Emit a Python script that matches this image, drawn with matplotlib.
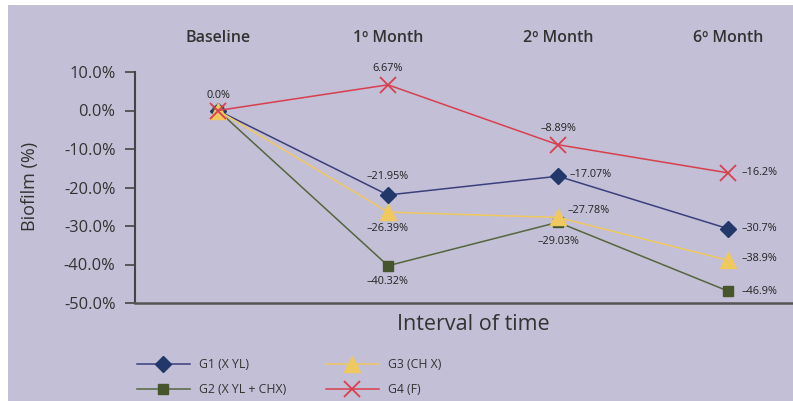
import matplotlib
matplotlib.use("Agg")
import matplotlib.pyplot as plt
from matplotlib.patches import Rectangle

plt.rcParams['font.family'] = ['Open Sans', 'DejaVu Sans']

categories = ["Baseline", "1º Month", "2º Month", "6º Month"]
g1 = [0.0, -21.95, -17.07, -30.7]
g2 = [0.0, -40.32, -29.03, -46.9]
g3 = [0.0, -26.39, -27.78, -38.9]
g4 = [0.0, 6.67, -8.89, -16.2]
series_names = ["G1 (X YL)", "G2 (X YL + CHX)", "G3 (CH X)", "G4 (F)"]
yticks = [10, 0, -10, -20, -30, -40, -50]

bg = "#c3bfd6"
fig = plt.figure(figsize=(7.93, 4.01), dpi=100, facecolor="white")
fig.patches.append(Rectangle((8 / 793, 0), 1, 1 - 5 / 401, transform=fig.transFigure,
                             facecolor=bg, edgecolor="none", zorder=-10))

ax = fig.add_axes([135 / 793, 1 - 303 / 401, 1 - 135 / 793, (303 - 72) / 401])
ax.set_facecolor("none")
x = list(range(len(categories)))

styles = [
    (g1, dict(color="#3b3f7c", marker="D", markersize=8, markerfacecolor="#22386a",
              markeredgecolor="#22386a")),
    (g2, dict(color="#55653f", marker="s", markersize=6.5, markerfacecolor="#46552b",
              markeredgecolor="#46552b")),
    (g3, dict(color="#f0c860", marker="^", markersize=11, markerfacecolor="#f0c860",
              markeredgecolor="#f0c860")),
    (g4, dict(color="#d8404f", marker="x", markersize=12, markeredgewidth=1.3)),
]
lines = []
for (vals, st), name in zip(styles, series_names):
    ln, = ax.plot(x, vals, linewidth=1.1, label=name, **st)
    lines.append(ln)

ax.set_xlim(-0.488, 3.382)
ax.set_ylim(-50, 10)
ax.set_yticks(yticks)
ax.set_yticklabels([f"{v:.1f}%" for v in yticks], fontsize=11.8, color="#333333")
ax.set_xticks(x)
ax.set_xticklabels(categories, fontsize=11.5, color="#333333", fontweight="semibold")
ax.xaxis.tick_top()
ax.tick_params(axis="x", length=0, pad=19)
ax.tick_params(axis="y", length=7, width=1.2, color="#444444", pad=7, direction="out")
for s in ["top", "right"]:
    ax.spines[s].set_visible(False)
ax.spines["left"].set_color("#444444")
ax.spines["left"].set_linewidth(1.5)
ax.spines["bottom"].set_color("#555555")
ax.spines["bottom"].set_linewidth(1.8)
fig.text(30 / 793, 1 - 186 / 401, "Biofilm (%)", fontsize=13, color="#333333",
         rotation=90, ha="center", va="center")
fig.text(473 / 793, 1 - 325 / 401, "Interval of time", fontsize=15.5, color="#333333",
         ha="center", va="center")

def fmt(v):
    s = f"{v:g}%" if v != 0 else "0.0%"
    return s.replace("-", "\u2013")

lab = dict(fontsize=7.8, color="#222222")
# value labels: (x index, value, offset in points, ha)
notes = [
    (0, g4[0], (0, 11), "center"),
    (1, g4[1], (0, 12), "center"),
    (1, g1[1], (0, 13), "center"),
    (1, g3[1], (0, -12), "center"),
    (1, g2[1], (0, -11), "center"),
    (2, g4[2], (0, 12), "center"),
    (2, g1[2], (8, 1), "left"),
    (2, g3[2], (7, 5), "left"),
    (2, g2[2], (0, -14), "center"),
    (3, g1[3], (10, 0), "left"),
    (3, g3[3], (10, 1), "left"),
    (3, g2[3], (10, 0), "left"),
    (3, g4[3], (10, 0), "left"),
]
for xi, v, off, ha in notes:
    ax.annotate(fmt(v), (xi, v), xytext=off, textcoords="offset points",
                ha=ha, va="center", **lab)

leg_kw = dict(frameon=False, fontsize=8.8, handlelength=4.3, labelspacing=0.95,
              handletextpad=0.8, borderaxespad=0, borderpad=0)
leg1 = fig.legend(handles=[lines[0], lines[1]], labels=[series_names[0], series_names[1]],
                  loc="center left", bbox_to_anchor=(137 / 793, 1 - 377 / 401), **leg_kw)
leg2 = fig.legend(handles=[lines[2], lines[3]], labels=[series_names[2], series_names[3]],
                  loc="center left", bbox_to_anchor=(326 / 793, 1 - 377 / 401), **leg_kw)
for lg in (leg1, leg2):
    for t in lg.get_texts():
        t.set_color("#333333")

fig.savefig("out.png", dpi=100, facecolor=fig.get_facecolor())
